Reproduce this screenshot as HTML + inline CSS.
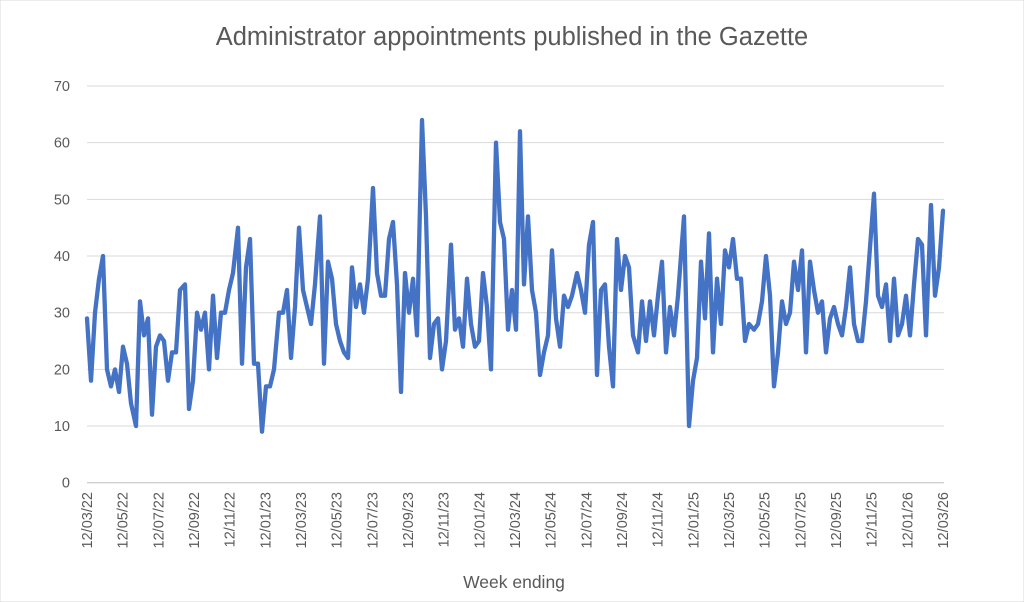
<!DOCTYPE html>
<html><head><meta charset="utf-8"><style>
html,body{margin:0;padding:0;background:#fff;}
svg{display:block;font-family:"Liberation Sans",sans-serif;}
</style></head><body>
<svg id="s" width="1024" height="602" viewBox="0 0 1024 602" xmlns="http://www.w3.org/2000/svg">
<rect x="0" y="0" width="1024" height="602" fill="#fff" stroke="#d9d9d9"/>
<text x="512" y="45" text-anchor="middle" font-size="25.5" fill="#595959">Administrator appointments published in the Gazette</text>
<text x="514" y="588" text-anchor="middle" font-size="17.5" fill="#595959">Week ending</text>
<g id="grid"></g>
<g id="lab"></g>
<polyline id="ln" fill="none" stroke="#4472c4" stroke-width="4.3" stroke-linejoin="round" stroke-linecap="round"/>
</svg>
<script>
var y0=482.7,k=5.667;
var g=document.getElementById('grid'),lab=document.getElementById('lab'),ns="http://www.w3.org/2000/svg";
function el(n,a,t){var e=document.createElementNS(ns,n);for(var i in a)e.setAttribute(i,a[i]);if(t!=null)e.textContent=t;return e;}
for(var v=0;v<=70;v+=10){var y=y0-v*k;g.appendChild(el('line',{x1:87,x2:944,y1:y,y2:y,stroke:v==0?'#bfbfbf':'#d9d9d9','stroke-width':1}));
lab.appendChild(el('text',{x:70,y:y+5,'text-anchor':'end','font-size':14.5,fill:'#595959'},v));}
var yrs=['22','23','24','25','26'],ms=['01','03','05','07','09','11'],L=[];
for(var yi=0;yi<5;yi++)for(var mi=0;mi<6;mi++){if(yi==0&&mi<1)continue;L.push('12/'+ms[mi]+'/'+yrs[yi]);if(L.length==25)break;}
for(var i=0;i<25;i++){var x=87+i*35.67;lab.appendChild(el('text',{x:0,y:0,transform:'translate('+(x+5)+',492) rotate(-90)','text-anchor':'end','font-size':14.5,fill:'#595959'},L[i]));}
var d=[87,29,91,18,95,30,99,36,103,40,107,20,111,17,115,20,119,16,123,24,127,21,131,14,136,10,140,32,144,26,148,29,152,12,156,24,160,26,164,25,168,18,172,23,176,23,180,34,185,35,189,13,193,18,197,30,201,27,205,30,209,20,213,33,217,22,221,30,225,30,229,34,233,37,238,45,242,21,246,38,250,43,254,21,258,21,262,9,266,17,270,17,274,20,279,30,283,30,287,34,291,22,295,31,299,45,303,34,307,31,311,28,315,35,320,47,324,21,328,39,332,36,336,28,340,25,344,23,348,22,352,38,356,31,360,35,364,30,368,36,373,52,377,37,381,33,385,33,389,43,393,46,397,35,401,16,405,37,409,30,413,36,417,26,422,64,426,47,430,22,434,28,438,29,442,20,446,25,451,42,455,27,459,29,463,24,467,36,471,28,475,24,479,25,483,37,487,31,491,20,496,60,500,46,504,43,508,27,512,34,516,27,520,62,524,35,528,47,532,34,536,30,540,19,544,23,548,26,552,41,556,29,560,24,564,33,568,31,572,33,577,37,581,34,585,30,589,42,593,46,597,19,601,34,605,35,609,24,613,17,617,43,621,34,625,40,629,38,633,26,638,23,642,32,646,25,650,32,654,26,658,33,662,39,666,23,670,31,674,26,678,33,684,47,689,10,693,18,697,22,701,39,705,29,709,44,713,23,717,36,721,28,725,41,729,38,733,43,737,36,741,36,745,25,749,28,754,27,758,28,762,32,766,40,770,33,774,17,778,23,782,32,786,28,790,30,794,39,798,34,802,41,806,23,810,39,814,34,818,30,822,32,826,23,830,29,834,31,838,28,842,26,846,31,850,38,854,28,858,25,862,25,866,32,874,51,878,33,882,31,886,35,890,25,894,36,898,26,902,28,906,33,910,26,914,35,918,43,922,42,926,26,931,49,935,33,939,38,943,48];
var p=[];for(var i=0;i<d.length;i+=2)p.push(d[i]+','+(y0-d[i+1]*k).toFixed(1));
document.getElementById('ln').setAttribute('points',p.join(' '));
</script>
</body></html>
